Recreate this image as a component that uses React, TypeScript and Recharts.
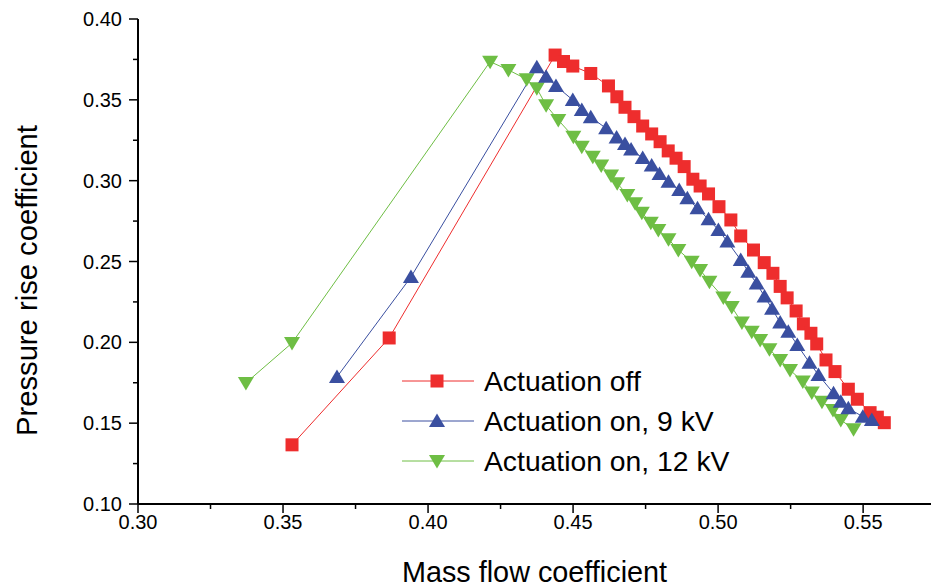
import React from "react";
import { LineChart, Line, XAxis, YAxis, Legend } from "recharts";

// ---- data ----
const offX = [0.3531, 0.3866, 0.4438, 0.4467, 0.4499, 0.4561, 0.4622, 0.4651, 0.4679, 0.4710, 0.4740, 0.4771, 0.4800, 0.4828, 0.4855, 0.4883, 0.4913, 0.4938, 0.4967, 0.5003, 0.5044, 0.5078, 0.5122, 0.5159, 0.5189, 0.5214, 0.5238, 0.5269, 0.5294, 0.5320, 0.5340, 0.5372, 0.5403, 0.5449, 0.5480, 0.5524, 0.5549, 0.5573];
const offY = [0.1366, 0.2027, 0.3777, 0.3737, 0.3709, 0.3663, 0.3586, 0.3519, 0.3454, 0.3396, 0.3338, 0.3289, 0.3241, 0.3184, 0.3139, 0.3087, 0.3009, 0.2967, 0.2918, 0.2839, 0.2757, 0.2658, 0.2571, 0.2493, 0.2427, 0.2346, 0.2275, 0.2194, 0.2114, 0.2056, 0.1990, 0.1891, 0.1819, 0.1710, 0.1648, 0.1565, 0.1537, 0.1503];

const on9X = [0.3686, 0.3941, 0.4375, 0.4407, 0.4441, 0.4499, 0.4530, 0.4561, 0.4614, 0.4650, 0.4679, 0.4700, 0.4740, 0.4771, 0.4798, 0.4829, 0.4866, 0.4894, 0.4929, 0.4967, 0.5001, 0.5032, 0.5078, 0.5104, 0.5133, 0.5160, 0.5186, 0.5214, 0.5242, 0.5273, 0.5315, 0.5346, 0.5398, 0.5423, 0.5449, 0.5499, 0.5530];
const on9Y = [0.1786, 0.2404, 0.3701, 0.3643, 0.3586, 0.3499, 0.3437, 0.3392, 0.3324, 0.3267, 0.3227, 0.3193, 0.3140, 0.3094, 0.3041, 0.2994, 0.2942, 0.2891, 0.2829, 0.2761, 0.2695, 0.2623, 0.2510, 0.2437, 0.2364, 0.2284, 0.2207, 0.2122, 0.2066, 0.1984, 0.1874, 0.1798, 0.1685, 0.1633, 0.1592, 0.1540, 0.1520];

const on12X = [0.3372, 0.3531, 0.4214, 0.4277, 0.4340, 0.4375, 0.4407, 0.4449, 0.4501, 0.4530, 0.4568, 0.4597, 0.4631, 0.4652, 0.4687, 0.4714, 0.4737, 0.4768, 0.4794, 0.4829, 0.4863, 0.4909, 0.4938, 0.4970, 0.5018, 0.5047, 0.5082, 0.5116, 0.5145, 0.5177, 0.5214, 0.5248, 0.5292, 0.5323, 0.5358, 0.5396, 0.5423, 0.5467];
const on12Y = [0.1749, 0.1996, 0.3736, 0.3685, 0.3627, 0.3571, 0.3466, 0.3375, 0.3272, 0.3210, 0.3148, 0.3094, 0.3032, 0.2984, 0.2912, 0.2860, 0.2802, 0.2740, 0.2695, 0.2638, 0.2571, 0.2499, 0.2448, 0.2375, 0.2278, 0.2219, 0.2122, 0.2066, 0.2015, 0.1957, 0.1891, 0.1829, 0.1757, 0.1689, 0.1633, 0.1582, 0.1520, 0.1463];

const xTicks = [0.3, 0.325, 0.35, 0.375, 0.4, 0.425, 0.45, 0.475, 0.5, 0.525, 0.55];
const yTicks = [0.1, 0.125, 0.15, 0.175, 0.2, 0.225, 0.25, 0.275, 0.3, 0.325, 0.35, 0.375, 0.4];
const seriesNames = ["Actuation off", "Actuation on, 9 kV", "Actuation on, 12 kV"];
const xTitle = "Mass flow coefficient";
const yTitle = "Pressure rise coefficient";

const zip = (xs: number[], ys: number[]) => xs.map((x, i) => ({ x, y: ys[i] }));
const offData = zip(offX, offY);
const on9Data = zip(on9X, on9Y);
const on12Data = zip(on12X, on12Y);

const RED = "#EE2D2D";
const BLUE = "#3A4FA0";
const GREEN = "#6EBE44";
const FONT = "'Liberation Sans', Arial, Helvetica, sans-serif";

type Shape = "square" | "up" | "down";

const marker = (shape: Shape, cx: number, cy: number, color: string, key?: any) => {
  if (shape === "square") {
    return <rect key={key} x={cx - 6.5} y={cy - 6.5} width={13} height={13} fill={color} />;
  }
  if (shape === "up") {
    return (
      <polygon
        key={key}
        points={`${cx},${cy - 7.5} ${cx - 8},${cy + 6} ${cx + 8},${cy + 6}`}
        fill={color}
      />
    );
  }
  return (
    <polygon
      key={key}
      points={`${cx - 8},${cy - 6} ${cx + 8},${cy - 6} ${cx},${cy + 7.5}`}
      fill={color}
    />
  );
};

const makeDot = (shape: Shape, color: string) => (props: any) => {
  const { cx, cy, key, index } = props;
  if (cx == null || cy == null) return <g key={key ?? index} />;
  return marker(shape, cx, cy, color, key ?? `${shape}-${index}`);
};

const isMajor = (v: number) => Math.abs(v * 20 - Math.round(v * 20)) < 1e-6;

const XTick = (props: any) => {
  const { x, y, payload } = props;
  const v = payload.value as number;
  const major = isMajor(v);
  return (
    <g>
      <line x1={x} x2={x} y1={y} y2={y + (major ? 9 : 5)} stroke="#000" strokeWidth={1.5} />
      {major && (
        <text x={x} y={y + 25} textAnchor="middle" fontSize={20} fontFamily={FONT} fill="#000">
          {v.toFixed(2)}
        </text>
      )}
    </g>
  );
};

const YTick = (props: any) => {
  const { x, y, payload } = props;
  const v = payload.value as number;
  const major = isMajor(v);
  return (
    <g>
      <line x1={x} x2={x - (major ? 9 : 5)} y1={y} y2={y} stroke="#000" strokeWidth={1.5} />
      {major && (
        <text x={x - 16} y={y + 7} textAnchor="end" fontSize={20} fontFamily={FONT} fill="#000">
          {v.toFixed(2)}
        </text>
      )}
    </g>
  );
};

const legendItems: { name: string; color: string; shape: Shape }[] = [
  { name: seriesNames[0], color: RED, shape: "square" },
  { name: seriesNames[1], color: BLUE, shape: "up" },
  { name: seriesNames[2], color: GREEN, shape: "down" },
];

const renderLegend = () => (
  <div style={{ fontFamily: FONT }}>
    {legendItems.map((it) => (
      <div key={it.name} style={{ display: "flex", alignItems: "center", height: 40 }}>
        <svg width={80} height={40} style={{ display: "block" }}>
          <line x1={2} x2={74} y1={20} y2={20} stroke={it.color} strokeWidth={1} />
          {marker(it.shape, 37, 20, it.color)}
        </svg>
        <span style={{ fontSize: 28.3, color: "#000", marginLeft: 4, whiteSpace: "nowrap", lineHeight: "40px" }}>
          {it.name}
        </span>
      </div>
    ))}
  </div>
);

export default function App() {
  return (
    <div style={{ position: "absolute", left: 0, top: 0, width: 931, height: 588, background: "#fff" }}>
      <LineChart width={931} height={588} margin={{ top: 19, right: 0, bottom: 0, left: 0 }}>
        <XAxis
          dataKey="x"
          type="number"
          domain={[0.3, 0.5734]}
          ticks={xTicks}
          interval={0}
          allowDataOverflow
          height={84}
          tickSize={0}
          tickMargin={0}
          tickLine={false}
          axisLine={{ stroke: "#000", strokeWidth: 2 }}
          tick={<XTick />}
          label={(p: any) => {
            const vb = p.viewBox || {};
            return (
              <text
                x={vb.x + vb.width / 2}
                y={vb.y + 78}
                textAnchor="middle"
                fontSize={28.8}
                fontFamily={FONT}
                fill="#000"
              >
                {xTitle}
              </text>
            );
          }}
        />
        <YAxis
          dataKey="y"
          type="number"
          domain={[0.1, 0.4]}
          ticks={yTicks}
          interval={0}
          allowDataOverflow
          width={138}
          tickSize={0}
          tickMargin={0}
          tickLine={false}
          axisLine={{ stroke: "#000", strokeWidth: 2 }}
          tick={<YTick />}
          label={(p: any) => {
            const vb = p.viewBox || {};
            const cx = 27;
            const cy = vb.y + vb.height / 2 + 19;
            return (
              <text
                x={cx}
                y={cy}
                transform={`rotate(-90, ${cx}, ${cy})`}
                textAnchor="middle"
                dominantBaseline="central"
                fontSize={29.2}
                fontFamily={FONT}
                fill="#000"
              >
                {yTitle}
              </text>
            );
          }}
        />
        <Legend
          layout="vertical"
          align="center"
          verticalAlign="middle"
          content={renderLegend}
          wrapperStyle={{ position: "absolute", left: 400, top: 361, width: 480 }}
        />
        <Line
          data={offData}
          dataKey="y"
          name={seriesNames[0]}
          type="linear"
          stroke={RED}
          strokeWidth={1}
          dot={makeDot("square", RED)}
          activeDot={false}
          isAnimationActive={false}
          legendType="none"
        />
        <Line
          data={on12Data}
          dataKey="y"
          name={seriesNames[2]}
          type="linear"
          stroke={GREEN}
          strokeWidth={1}
          dot={makeDot("down", GREEN)}
          activeDot={false}
          isAnimationActive={false}
          legendType="none"
        />
        <Line
          data={on9Data}
          dataKey="y"
          name={seriesNames[1]}
          type="linear"
          stroke={BLUE}
          strokeWidth={1}
          dot={makeDot("up", BLUE)}
          activeDot={false}
          isAnimationActive={false}
          legendType="none"
        />
      </LineChart>
    </div>
  );
}
